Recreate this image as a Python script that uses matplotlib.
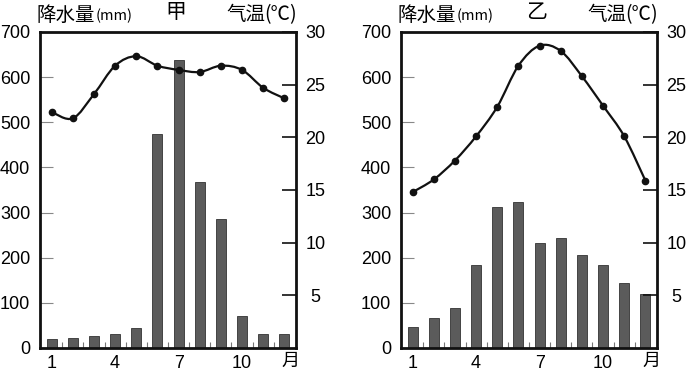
import matplotlib
matplotlib.use("Agg")
import matplotlib.pyplot as plt
import numpy as np
from matplotlib.path import Path
from matplotlib.patches import PathPatch

plt.rcParams["font.family"] = ["Liberation Sans", "DejaVu Sans"]
CJK = ["Noto Sans CJK SC", "DejaVu Sans"]

W, H = 690, 373
BAR = "#5b5b5b"
INK = "#111111"

months = np.arange(1, 13)
month_ticks = [1, 4, 7, 10]

# 甲
precip_a = [20, 22, 26, 31, 44, 475, 638, 367, 286, 71, 31, 31]
temp_a = [22.4, 21.8, 24.1, 26.8, 27.7, 26.8, 26.4, 26.2, 26.8, 26.4, 24.7, 23.7]
# 乙
precip_b = [47, 66, 89, 184, 313, 323, 233, 244, 207, 183, 144, 119]
temp_b = [14.8, 16.0, 17.8, 20.1, 22.9, 26.8, 28.7, 28.2, 25.8, 23.0, 20.1, 15.9]

fig = plt.figure(figsize=(W / 100, H / 100), dpi=100)
fig.patch.set_facecolor("white")


def px(x, y):
    return x / W, 1 - y / H


def smooth_path(xs, ys):
    # Catmull-Rom segments drawn as cubic Bezier curves through the data points
    xs = np.asarray(xs, float)
    ys = np.asarray(ys, float)
    verts = [(xs[0], ys[0])]
    codes = [Path.MOVETO]
    n = len(xs)
    for i in range(n - 1):
        p0 = (xs[max(i - 1, 0)], ys[max(i - 1, 0)])
        p1 = (xs[i], ys[i])
        p2 = (xs[i + 1], ys[i + 1])
        p3 = (xs[min(i + 2, n - 1)], ys[min(i + 2, n - 1)])
        c1 = (p1[0] + (p2[0] - p0[0]) / 6, p1[1] + (p2[1] - p0[1]) / 6)
        c2 = (p2[0] - (p3[0] - p1[0]) / 6, p2[1] - (p3[1] - p1[1]) / 6)
        verts += [c1, c2, p2]
        codes += [Path.CURVE4] * 3
    return Path(verts, codes)


def panel(x0, precip, temp, title, title_x, title_y):
    l, b = px(x0, 348)
    ax = fig.add_axes([l, b, 256 / W, 316 / H])
    ax.bar(months, precip, width=0.48, color=BAR, edgecolor="#333333", lw=0.6,
           zorder=2)
    ax.set_xlim(0.45, 12.55)
    ax.set_ylim(0, 700)
    ax.set_yticks(range(0, 701, 100))
    ax.set_xticks(month_ticks)
    ax.set_xticks(np.arange(1.5, 12, 1), minor=True)
    ax.tick_params(axis="x", which="major", length=0, pad=5, labelsize=13)
    ax.tick_params(axis="x", which="minor", direction="in", length=4,
                   width=0.8, color="#777777")
    ax.tick_params(axis="y", direction="in", length=9, width=0.8,
                   color="#888888", labelsize=13, pad=7)
    for s in ax.spines.values():
        s.set_linewidth(2)
        s.set_color(INK)

    ax2 = ax.twinx()
    ax2.set_ylim(0, 30)
    ax2.set_yticks(range(5, 31, 5))
    ax2.tick_params(axis="y", direction="in", length=10, width=1.2,
                    color=INK, labelsize=13, pad=14)
    for lab in ax2.get_yticklabels():
        lab.set_horizontalalignment("center")
    for s in ax2.spines.values():
        s.set_visible(False)
    ax2.add_patch(PathPatch(smooth_path(months, temp), fill=False,
                            edgecolor=INK, lw=1.6, zorder=3))
    ax2.plot(months, temp, "o", color=INK, ms=4.5, zorder=4)

    fig.text(*px(x0 + 250, 361), "月", fontsize=13, family=CJK,
             ha="center", va="center")

    fig.text(*px(x0 - 4, 15), "降水量", fontsize=14, family=CJK,
             ha="left", va="center")
    fig.text(*px(x0 + 56, 16), "(mm)", fontsize=10.5, family=CJK,
             ha="left", va="center")
    fig.text(*px(x0 + 186, 15), "气温", fontsize=14, family=CJK,
             ha="left", va="center")
    fig.text(*px(x0 + 224, 15), "(℃)", fontsize=14, family=CJK,
             ha="left", va="center")
    fig.text(*px(title_x, title_y), title, fontsize=15, family=CJK,
             ha="center", va="center")


panel(40, precip_a, temp_a, "甲", 176, 12)
panel(401, precip_b, temp_b, "乙", 537, 12)

fig.savefig("out.png", dpi=100, facecolor="white")
